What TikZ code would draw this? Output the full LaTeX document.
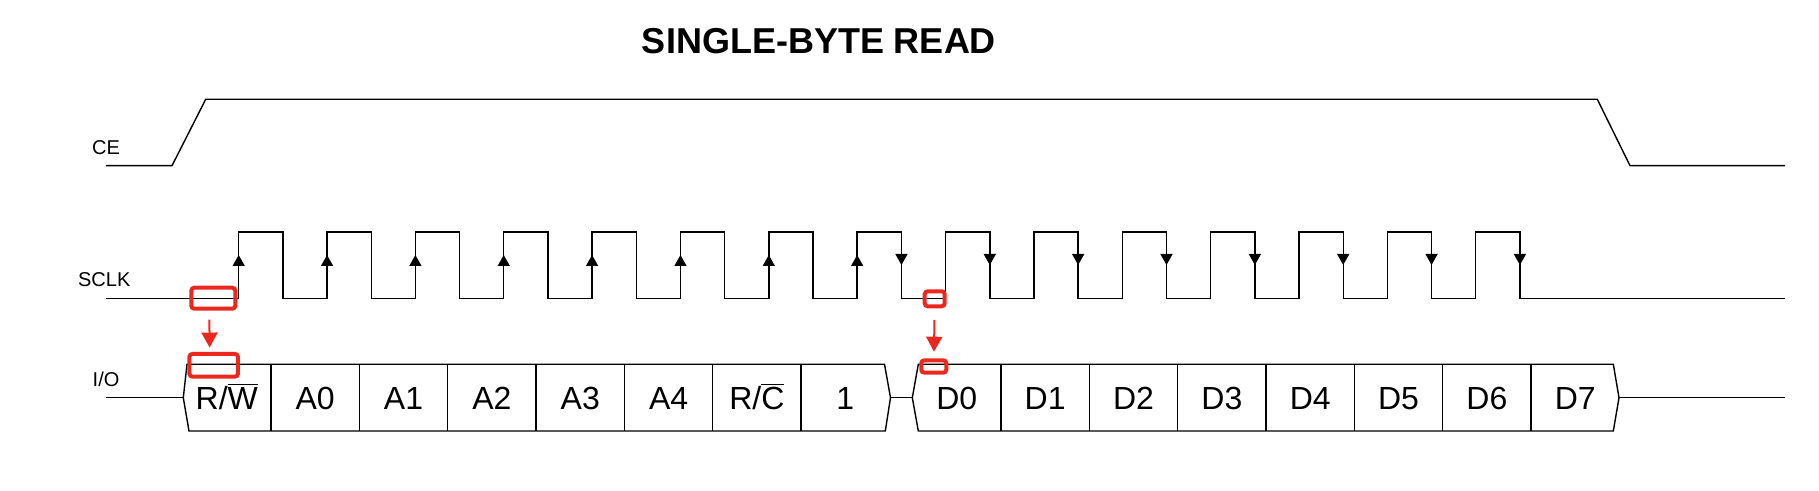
\documentclass[tikz,border=0pt]{standalone}
\usepackage{fontspec}
\setmainfont{Liberation Sans}
\usepackage{ifthen}
\usetikzlibrary{arrows.meta}
\definecolor{markred}{RGB}{235,40,30}

\begin{document}
\begin{tikzpicture}[x=0.5pt, y=-0.5pt,
    wave/.style={line width=0.7pt, black},
    clkedge/.style={wave, -{Triangle[width=6pt, length=5.5pt]}},
    siglabel/.style={anchor=base west, inner sep=0pt, font=\fontsize{10}{12}\selectfont},
    cell/.style={anchor=base, inner sep=0pt, font=\fontsize{16}{19}\selectfont},
    markbox/.style={draw=markred, line width=2pt, rounded corners=1.5pt, inner sep=0pt, outer sep=0pt},
    markarrow/.style={markred, line width=1pt, -{Triangle[width=8pt, length=7.5pt]}}]

    % Picture size (pixels)
    \useasboundingbox (0,0) rectangle (1819,491);
    \def\xs{106}     % start of the traces
    \def\xe{1785}    % end of the traces
    % CE levels
    \def\ceh{99.3}
    \def\cel{165.7}
    % SCLK
    \def\period{88.35}
    \def\hw{44.3}    % high time
    \def\ra{238.7}   % first rising edge
    \def\yhi{232}
    \def\ylo{298.3}
    % I/O bus
    \def\iot{364.3}
    \def\iob{431}
    \def\iom{397.7}

    % Title
    \node[anchor=base, inner sep=0pt, font=\fontsize{18}{22}\selectfont\bfseries] (title) at (819,54) {SINGLE-BYTE READ};

    % Signal names
    \node[siglabel] (ce) at (91.7,154.3) {CE};
    \node[siglabel] (sclk) at (77.7,286.5) {SCLK};
    \node[siglabel] (io) at (92.3,386.7) {I/O};

    % CE
    \draw[wave] (\xs,\cel) -- (172,\cel) -- (205.7,\ceh) -- (1597.3,\ceh) -- (1630,\cel) -- (\xe,\cel);

    % SCLK
    \draw[wave] (\xs,\ylo) \foreach \k in {0,...,14}{
        -- ({\ra+\k*\period},\ylo) -- ++(0,-66.3) -- ++(\hw,0) -- ++(0,66.3)} -- (\xe,\ylo);
    % Clock edges, rising (write) and falling (read)
    \foreach \k in {0,...,14}{
        \ifthenelse{\k < 8}{\draw[clkedge] ({\ra+\k*\period},\ylo) -- ++(0,-43.3);}{}
        \ifthenelse{\k > 6}{\draw[clkedge] ({\ra+\hw+\k*\period},\yhi) -- ++(0,33);}{}
    }

    % I/O, address byte
    \draw[wave] (\xs,\iom) -- (183.3,\iom);
    \draw[wave] (183.3,\iom) -- (187,\iot) -- (884.5,\iot) -- (890.5,\iom) -- (885.3,\iob) -- (189,\iob) -- cycle;
    \foreach \k in {0,...,6}{
        \draw[wave] ({271+\k*\period},\iot) -- ({271+\k*\period},\iob);
    }
    \foreach \lbl [count=\i from 0] in {{R/$\overline{\mbox{W}}$}, A0, A1, A2, A3, A4, {R/$\overline{\mbox{C}}$}, 1}{
        \node[cell] (a\i) at ({271+(\i-0.5)*\period},409.2) {\lbl};
    }

    % I/O, data byte
    \draw[wave] (890.5,\iom) -- (912.3,\iom);
    \draw[wave] (912.3,\iom) -- (918.3,\iot) -- (1613.3,\iot) -- (1619,\iom) -- (1613.3,\iob) -- (918.3,\iob) -- cycle;
    \draw[wave] (1619,\iom) -- (\xe,\iom);
    \foreach \k in {0,...,6}{
        \draw[wave] ({1001+\k*\period},\iot) -- ({1001+\k*\period},\iob);
    }
    \foreach \i in {0,...,7}{
        \node[cell] (d\i) at ({1001+(\i-0.5)*\period},409.2) {D\i};
    }

    % Marks
    \node[markbox, minimum width=22pt, minimum height=10.5pt] (m1) at (213.3,298.2) {};
    \node[markbox, minimum width=24.25pt, minimum height=11.35pt] (m2) at (213.7,365.3) {};
    \node[markbox, minimum width=10pt, minimum height=7.5pt] (m3) at (934.7,298.8) {};
    \node[markbox, minimum width=12.5pt, minimum height=6.2pt] (m4) at (933.8,366.5) {};
    \draw[markarrow, shorten <=5.5pt, shorten >=3.2pt] ([xshift=-2pt]m1.south) -- ([xshift=-2pt]m2.north);
    \draw[markarrow, shorten <=6.8pt, shorten >=4.3pt] (m3.south) -- (m4.north);

\end{tikzpicture}
\end{document}
